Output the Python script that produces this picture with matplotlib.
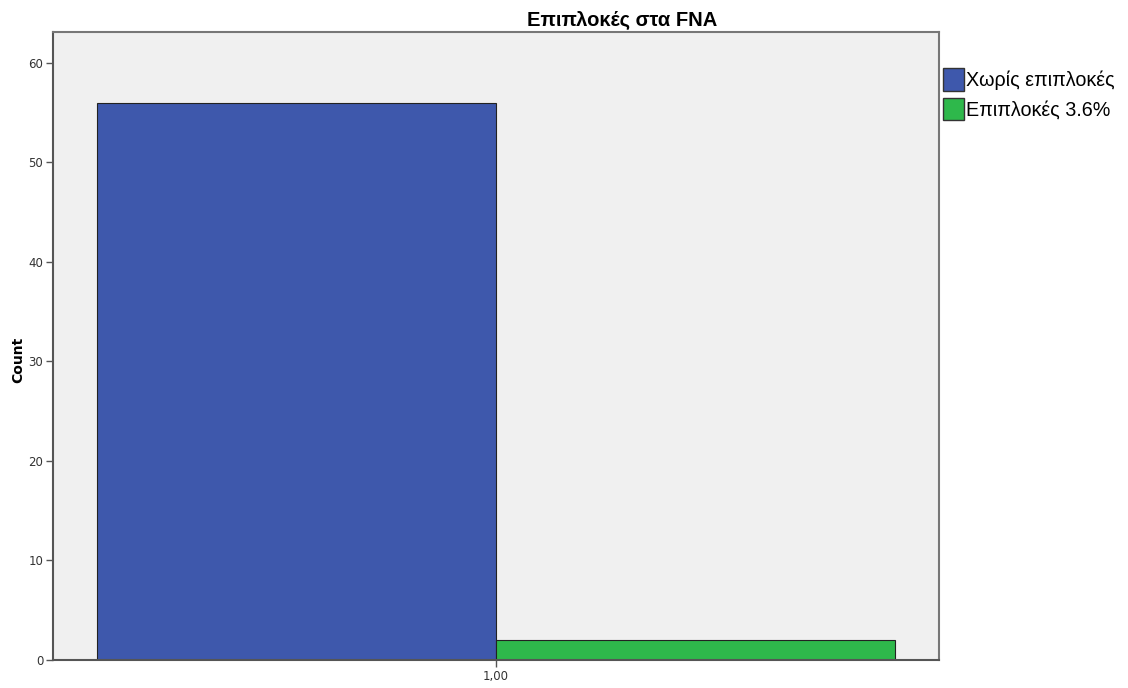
import matplotlib.pyplot as plt
from matplotlib.patches import Patch

groups = ['Χωρίς επιπλοκές', 'Επιπλοκές 3.6%']
counts = [56, 2]
colors = ['#3e58ac', '#2eb84b']
x_labels = ['1,00']
y_ticks = [0, 10, 20, 30, 40, 50, 60]

fig = plt.figure(figsize=(11.28, 6.88), dpi=100)
ax = fig.add_axes([53 / 1128, 28 / 688, 886 / 1128, 628 / 688])
ax.set_facecolor('#f0f0f0')

width = 0.45
for i, (g, c, col) in enumerate(zip(groups, counts, colors)):
    offset = (i - 0.5) * width
    ax.bar(1 + offset, c, width=width, color=col, edgecolor='#222222', linewidth=0.8)

ax.set_xlim(0.5, 1.5)
ax.set_ylim(0, 63.1)
ax.set_xticks([1])
ax.set_xticklabels(x_labels, fontsize=8.5, color='#333333')
ax.set_yticks(y_ticks)
ax.set_yticklabels([str(t) for t in y_ticks], fontsize=8.5, color='#333333')
ax.tick_params(length=5, width=1, color='#555555', pad=2)
for s in ax.spines.values():
    s.set_color('#777777')
    s.set_linewidth(1.5)
ax.spines['left'].set_color('#555555')
ax.spines['bottom'].set_color('#555555')

# y label placed by hand so it sits inside the figure
fig.text(18 / 1128, 1 - 360 / 688, 'Count', rotation=90, ha='center', va='center',
         fontsize=10, fontweight='bold')

fig.text(622 / 1128, 1 - 20 / 688, 'Επιπλοκές στα FNA', ha='center', va='center',
         fontsize=14.5, fontweight='bold', family='Liberation Sans')

handles = [Patch(facecolor=col, edgecolor='#333333', label=g) for g, col in zip(groups, colors)]
fig.legend(handles=handles, loc='upper left', bbox_to_anchor=(935 / 1128, 1 - 60 / 688),
           frameon=False, handlelength=1.05, handleheight=1.4,
           handletextpad=0.1, labelspacing=0.35, borderaxespad=0,
           prop={'family': 'Liberation Sans', 'size': 14.2})

fig.savefig('out.png', dpi=100)
